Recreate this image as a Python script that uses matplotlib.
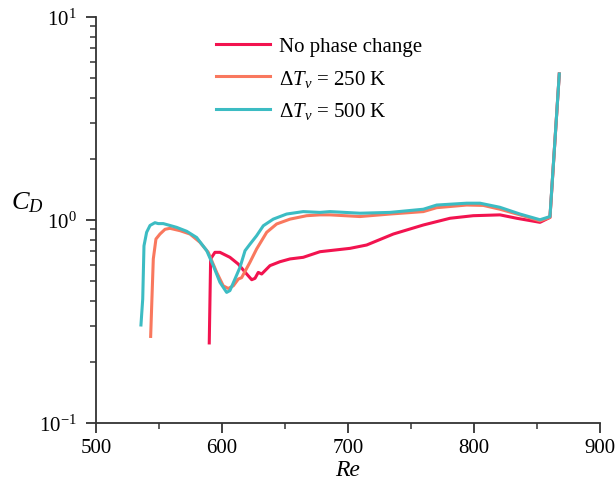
import matplotlib
matplotlib.use('Agg')
import matplotlib.pyplot as plt
from matplotlib.ticker import LogLocator, MultipleLocator

plt.rcParams['font.family'] = ['Liberation Serif', 'DejaVu Serif']
plt.rcParams['mathtext.fontset'] = 'custom'
plt.rcParams['mathtext.rm'] = 'Liberation Serif'
plt.rcParams['mathtext.it'] = 'Liberation Serif:italic'

# no phase change
re_np = [589.9, 591.0, 594.4, 598.4, 606.3, 612.9, 619.6, 623.6, 626.2, 628.8, 631.5, 638.1,
         646.0, 654.0, 664.5, 677.8, 701.6, 714.8, 736.0, 759.8, 781.0, 799.4, 820.6, 833.9,
         852.4, 860.3, 867.7]
cd_np = [0.248, 0.643, 0.693, 0.693, 0.655, 0.607, 0.542, 0.508, 0.516, 0.552, 0.542, 0.596,
         0.623, 0.643, 0.655, 0.698, 0.725, 0.753, 0.853, 0.945, 1.02, 1.05, 1.06, 1.02,
         0.974, 1.03, 5.24]

# dT_v = 250 K
re_250 = [543.4, 544.4, 545.5, 547.6, 550.8, 554.8, 558.7, 566.7, 574.6, 582.5, 589.1, 595.8,
          601.0, 605.0, 609.0, 613.0, 615.6, 622.2, 627.5, 635.5, 643.4, 654.0, 667.2, 677.8,
          685.7, 709.5, 733.3, 759.8, 770.4, 794.2, 807.4, 820.6, 836.5, 852.4, 860.3, 867.7]
cd_250 = [0.267, 0.408, 0.643, 0.806, 0.853, 0.90, 0.91, 0.886, 0.853, 0.777, 0.693, 0.552,
          0.474, 0.46, 0.474, 0.512, 0.52, 0.619, 0.72, 0.87, 0.956, 1.01, 1.05, 1.06,
          1.06, 1.04, 1.07, 1.10, 1.15, 1.185, 1.18, 1.13, 1.06, 0.99, 1.03, 5.24]

# dT_v = 500 K
re_500 = [535.7, 537.1, 538.1, 540.2, 542.9, 546.8, 549.4, 553.4, 558.7, 564.0, 572.0, 579.9,
          587.9, 593.1, 598.4, 603.7, 606.3, 610.3, 614.3, 618.3, 622.2, 627.5, 632.8, 640.7,
          651.3, 664.5, 677.8, 685.7, 709.5, 733.3, 759.8, 770.4, 794.2, 804.8, 820.6, 836.5,
          852.4, 860.3, 867.7]
cd_500 = [0.304, 0.408, 0.746, 0.87, 0.94, 0.97, 0.96, 0.96, 0.94, 0.92, 0.88, 0.82,
          0.706, 0.596, 0.493, 0.44, 0.449, 0.512, 0.585, 0.706, 0.76, 0.837, 0.937, 1.01,
          1.07, 1.10, 1.09, 1.10, 1.08, 1.09, 1.13, 1.185, 1.21, 1.21, 1.155, 1.07,
          1.003, 1.04, 5.24]

fig = plt.figure(figsize=(6.16, 4.89), dpi=100)
ax = fig.add_axes([0.1558, 0.1329, 0.974 - 0.1558, 0.9632 - 0.1329])

ax.plot(re_np, cd_np, color='#F2134F', lw=2.2, label='No phase change')
ax.plot(re_250, cd_250, color='#F9785E', lw=2.2, label=r'$\Delta T_v$ = 250 K')
ax.plot(re_500, cd_500, color='#3CBCC3', lw=2.2, label=r'$\Delta T_v$ = 500 K')

ax.set_yscale('log')
ax.set_xlim(500, 900)
ax.set_ylim(0.1, 10)
ax.xaxis.set_major_locator(MultipleLocator(100))
ax.xaxis.set_minor_locator(MultipleLocator(50))
ax.yaxis.set_major_locator(LogLocator(base=10))
ax.yaxis.set_minor_locator(LogLocator(base=10, subs=range(2, 10)))

for s in ['top', 'right']:
    ax.spines[s].set_visible(False)
for s in ['left', 'bottom']:
    ax.spines[s].set_color('#333333')
    ax.spines[s].set_linewidth(1.3)

ax.tick_params(which='major', direction='out', length=7, width=1.3, colors='#333333',
               labelsize=15, labelcolor='black')
ax.tick_params(which='minor', direction='out', length=4, width=1.1, colors='#333333')
ax.tick_params(axis='y', which='major', pad=7)
ax.tick_params(axis='x', which='major', pad=4)

ax.set_xlabel('Re', fontsize=17, style='italic', labelpad=1)
fig.text(0.045, 0.585, r'$C_D$', fontsize=19, ha='center', va='center')

ax.legend(loc='upper left', bbox_to_anchor=(0.2, 0.998), frameon=False, fontsize=15,
          handlelength=2.6, handletextpad=0.45, labelspacing=0.55)

fig.savefig('out.png', dpi=100)
